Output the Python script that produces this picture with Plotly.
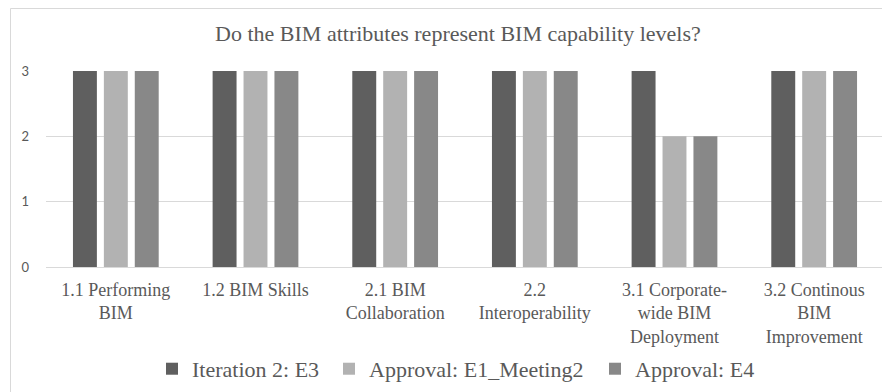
import plotly.graph_objects as go

categories = ["1.1 Performing<br>BIM", "1.2 BIM Skills", "2.1 BIM<br>Collaboration",
              "2.2<br>Interoperability", "3.1 Corporate-<br>wide BIM<br>Deployment",
              "3.2 Continous<br>BIM<br>Improvement"]
iteration2_e3 = [3, 3, 3, 3, 3, 3]
approval_e1_meeting2 = [3, 3, 3, 3, 2, 3]
approval_e4 = [3, 3, 3, 3, 2, 3]
series_names = ["Iteration 2: E3", "Approval: E1_Meeting2", "Approval: E4"]
colors = ["#5f5f5f", "#b2b2b2", "#888888"]
y_ticks = [0, 1, 2, 3]

# The page body has an 8px margin, so the figure is 882x384 and sits at (8, 8).
W, H = 882, 384
L, R, T, B = 38, 6, 63, 125
PW, PH = W - L - R, H - T - B

serif = "Liberation Serif"
legend_ids = ["legend", "legend2", "legend3"]
legend_starts = [152, 329, 595]  # window px where each legend entry begins

fig = go.Figure()
for name, vals, col, lid in zip(series_names, [iteration2_e3, approval_e1_meeting2, approval_e4], colors, legend_ids):
    fig.add_trace(go.Bar(x=categories, y=vals, name=name, legend=lid,
                         marker=dict(color=col, line=dict(width=0))))

legend_common = dict(orientation="h", xanchor="left", y=-0.52, yanchor="middle",
                     font=dict(family=serif, size=22, color="#595959"),
                     itemwidth=30, bgcolor="rgba(0,0,0,0)")
legend_layout = {lid: dict(legend_common, x=(xs - 8 - L) / PW) for lid, xs in zip(legend_ids, legend_starts)}

fig.update_layout(
    width=W, height=H,
    margin=dict(l=L, r=R, t=T, b=B, autoexpand=False),
    paper_bgcolor="white", plot_bgcolor="white",
    barmode="group", bargap=0.336, bargroupgap=0.226,
    title=dict(text="Do the BIM attributes represent BIM capability levels?",
               x=0.4916, xanchor="center", xref="paper", y=1 - 25 / H, yanchor="middle", yref="container",
               font=dict(family=serif, size=22, color="#595959")),
    showlegend=True,
    **legend_layout,
)
fig.update_xaxes(showgrid=False, showline=False, ticks="", tickangle=0, ticklabelstandoff=10,
                 tickfont=dict(family=serif, size=18, color="#595959"))
fig.update_yaxes(range=[0, 3], tickvals=y_ticks, showgrid=True, gridcolor="#d9d9d9", gridwidth=1,
                 zeroline=True, zerolinecolor="#d9d9d9", zerolinewidth=1, showline=False,
                 ticklabelstandoff=16,
                 tickfont=dict(family="Lato, Carlito, sans-serif", size=13, color="#595959"))
fig.add_shape(type="rect", xref="paper", yref="paper",
              x0=(2.5 - L) / PW, x1=(W + 10 - L) / PW, y0=-(B + 10) / PH, y1=(PH + T - 0.5) / PH,
              line=dict(color="#d9d9d9", width=1), fillcolor="rgba(0,0,0,0)", layer="below")
fig.write_html("out.html")
